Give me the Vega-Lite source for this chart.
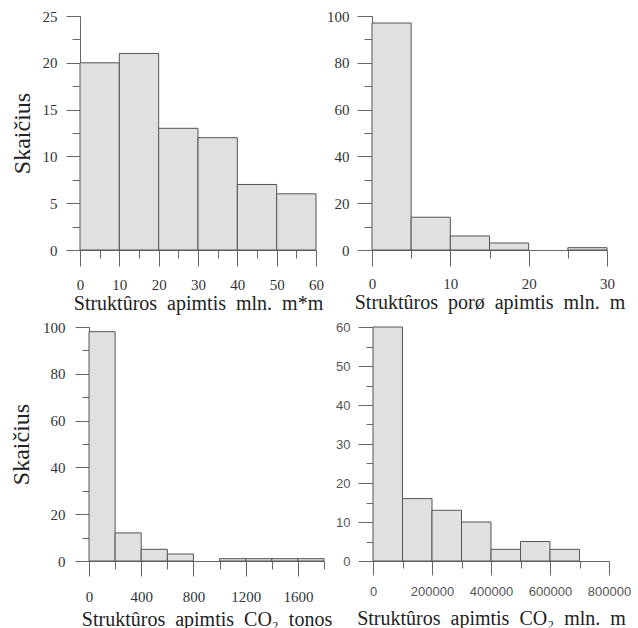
{
  "$schema": "https://vega.github.io/schema/vega-lite/v6.json",
  "autosize": {"type": "pad"},
  "padding": {"left": 9, "top": 9, "right": 0, "bottom": 0},
  "background": "white",
  "datasets": {
    "d1": [
      {"start": 0, "end": 10, "count": 20},
      {"start": 10, "end": 20, "count": 21},
      {"start": 20, "end": 30, "count": 13},
      {"start": 30, "end": 40, "count": 12},
      {"start": 40, "end": 50, "count": 7},
      {"start": 50, "end": 60, "count": 6}
    ],
    "d2": [
      {"start": 0, "end": 5, "count": 97},
      {"start": 5, "end": 10, "count": 14},
      {"start": 10, "end": 15, "count": 6},
      {"start": 15, "end": 20, "count": 3},
      {"start": 25, "end": 30, "count": 1}
    ],
    "d3": [
      {"start": 0, "end": 200, "count": 98},
      {"start": 200, "end": 400, "count": 12},
      {"start": 400, "end": 600, "count": 5},
      {"start": 600, "end": 800, "count": 3},
      {"start": 1000, "end": 1200, "count": 1},
      {"start": 1200, "end": 1400, "count": 1},
      {"start": 1400, "end": 1600, "count": 1},
      {"start": 1600, "end": 1800, "count": 1}
    ],
    "d4": [
      {"start": 0, "end": 100000, "count": 60},
      {"start": 100000, "end": 200000, "count": 16},
      {"start": 200000, "end": 300000, "count": 13},
      {"start": 300000, "end": 400000, "count": 10},
      {"start": 400000, "end": 500000, "count": 3},
      {"start": 500000, "end": 600000, "count": 5},
      {"start": 600000, "end": 700000, "count": 3}
    ]
  },
  "config": {
    "view": {"stroke": null},
    "axis": {
      "grid": false,
      "domainColor": "#666",
      "tickColor": "#666",
      "labelFont": "Liberation Serif",
      "labelFontSize": 15,
      "labelColor": "#333",
      "labelOverlap": false,
      "labelFlush": false,
      "titleFont": "Liberation Serif",
      "titleFontWeight": "normal",
      "titleColor": "#222"
    },
    "axisX": {"titleFontSize": 20, "titlePadding": 1},
    "axisY": {"titleFontSize": 24}
  },
  "vconcat": [
    {
      "hconcat": [
        {
          "width": 236, "height": 234,
          "data": {"name": "d1"},
          "layer": [
            {
              "mark": {"type": "bar", "fill": "#e0e0e0", "stroke": "#555", "strokeWidth": 1},
              "encoding": {
                "x": {"field": "start", "type": "quantitative", "scale": {"domain": [0, 60], "nice": false},
                  "axis": {"orient": "bottom", "values": [0, 10, 20, 30, 40, 50, 60], "tickSize": 16, "labelPadding": 11,
                    "title": "Struktûros\u00a0 apimtis\u00a0 mln.\u00a0 m*m"}},
                "x2": {"field": "end"},
                "y": {"field": "count", "type": "quantitative", "scale": {"domain": [0, 25], "nice": false},
                  "axis": {"orient": "left", "values": [0, 5, 10, 15, 20, 25], "tickSize": 14, "labelPadding": 9,
                    "title": "Skaičius", "titlePadding": 8}},
                "y2": {"datum": 0}
              }
            },
            {
              "mark": {"type": "bar", "opacity": 0},
              "encoding": {
                "x": {"field": "start", "type": "quantitative",
                  "axis": {"orient": "bottom", "values": [5, 15, 25, 35, 45, 55], "tickSize": 8, "labels": false, "domain": false, "title": null}},
                "x2": {"field": "end"},
                "y": {"field": "count", "type": "quantitative",
                  "axis": {"orient": "left", "values": [2.5, 7.5, 12.5, 17.5, 22.5], "tickSize": 8, "labels": false, "domain": false, "title": null}},
                "y2": {"datum": 0}
              }
            }
          ],
          "resolve": {"axis": {"x": "independent", "y": "independent"}}
        },
        {
          "width": 235, "height": 234,
          "data": {"name": "d2"},
          "layer": [
            {
              "mark": {"type": "bar", "fill": "#e0e0e0", "stroke": "#555", "strokeWidth": 1},
              "encoding": {
                "x": {"field": "start", "type": "quantitative", "scale": {"domain": [0, 30], "nice": false},
                  "axis": {"orient": "bottom", "values": [0, 10, 20, 30], "tickSize": 16, "labelPadding": 10,
                    "title": "Struktûros\u00a0 porø\u00a0 apimtis\u00a0 mln.\u00a0 m"}},
                "x2": {"field": "end"},
                "y": {"field": "count", "type": "quantitative", "scale": {"domain": [0, 100], "nice": false},
                  "axis": {"orient": "left", "values": [0, 20, 40, 60, 80, 100], "tickSize": 15, "labelPadding": 8, "title": null}},
                "y2": {"datum": 0}
              }
            },
            {
              "mark": {"type": "bar", "opacity": 0},
              "encoding": {
                "x": {"field": "start", "type": "quantitative",
                  "axis": {"orient": "bottom", "values": [5, 15, 25], "tickSize": 8, "labels": false, "domain": false, "title": null}},
                "x2": {"field": "end"},
                "y": {"field": "count", "type": "quantitative",
                  "axis": {"orient": "left", "values": [10, 30, 50, 70, 90], "tickSize": 8, "labels": false, "domain": false, "title": null}},
                "y2": {"datum": 0}
              }
            }
          ],
          "resolve": {"axis": {"x": "independent", "y": "independent"}}
        }
      ],
      "spacing": 56,
      "bounds": "flush"
    },
    {
      "hconcat": [
        {
          "width": 9, "height": 234,
          "data": {"values": []},
          "mark": {"type": "point", "opacity": 0},
          "encoding": {}
        },
        {
          "hconcat": [
            {
              "width": 235, "height": 234,
              "data": {"name": "d3"},
              "layer": [
                {
                  "mark": {"type": "bar", "fill": "#e0e0e0", "stroke": "#555", "strokeWidth": 1},
                  "encoding": {
                    "x": {"field": "start", "type": "quantitative", "scale": {"domain": [0, 1800], "nice": false},
                      "axis": {"orient": "bottom", "values": [0, 400, 800, 1200, 1600], "format": "d", "tickSize": 15, "labelPadding": 13,
                        "titlePadding": 5, "title": "Struktûros\u00a0 apimtis\u00a0 CO₂\u00a0 tonos"}},
                    "x2": {"field": "end"},
                    "y": {"field": "count", "type": "quantitative", "scale": {"domain": [0, 100], "nice": false},
                      "axis": {"orient": "left", "values": [0, 20, 40, 60, 80, 100], "tickSize": 14, "labelPadding": 10,
                        "title": "Skaičius", "titlePadding": 9}},
                    "y2": {"datum": 0}
                  }
                },
                {
                  "mark": {"type": "bar", "opacity": 0},
                  "encoding": {
                    "x": {"field": "start", "type": "quantitative",
                      "axis": {"orient": "bottom", "values": [200, 600, 1000, 1400, 1800], "tickSize": 8, "labels": false, "domain": false, "title": null}},
                    "x2": {"field": "end"},
                    "y": {"field": "count", "type": "quantitative",
                      "axis": {"orient": "left", "values": [10, 30, 50, 70, 90], "tickSize": 7, "labels": false, "domain": false, "title": null}},
                    "y2": {"datum": 0}
                  }
                }
              ],
              "resolve": {"axis": {"x": "independent", "y": "independent"}}
            },
            {
              "width": 236, "height": 234,
              "data": {"name": "d4"},
              "layer": [
                {
                  "mark": {"type": "bar", "fill": "#e0e0e0", "stroke": "#555", "strokeWidth": 1},
                  "encoding": {
                    "x": {"field": "start", "type": "quantitative", "scale": {"domain": [0, 800000], "nice": false},
                      "axis": {"orient": "bottom", "values": [0, 200000, 400000, 600000, 800000], "format": "d",
                        "labelFont": "Liberation Sans", "labelFontSize": 13, "labelColor": "#555",
                        "tickSize": 14, "labelPadding": 10, "titlePadding": 10,
                        "title": "Struktûros\u00a0 apimtis\u00a0 CO₂\u00a0 mln.\u00a0 m"}},
                    "x2": {"field": "end"},
                    "y": {"field": "count", "type": "quantitative", "scale": {"domain": [0, 60], "nice": false},
                      "axis": {"orient": "left", "values": [0, 10, 20, 30, 40, 50, 60],
                        "labelFont": "Liberation Sans", "labelFontSize": 13, "labelColor": "#555",
                        "tickSize": 15, "labelPadding": 8, "title": null}},
                    "y2": {"datum": 0}
                  }
                },
                {
                  "mark": {"type": "bar", "opacity": 0},
                  "encoding": {
                    "x": {"field": "start", "type": "quantitative",
                      "axis": {"orient": "bottom", "values": [100000, 300000, 500000, 700000], "tickSize": 7, "labels": false, "domain": false, "title": null}},
                    "x2": {"field": "end"},
                    "y": {"field": "count", "type": "quantitative",
                      "axis": {"orient": "left", "values": [5, 15, 25, 35, 45, 55], "tickSize": 7, "labels": false, "domain": false, "title": null}},
                    "y2": {"datum": 0}
                  }
                }
              ],
              "resolve": {"axis": {"x": "independent", "y": "independent"}}
            }
          ],
          "spacing": 49,
          "bounds": "flush"
        }
      ],
      "spacing": 0,
      "bounds": "flush"
    }
  ],
  "spacing": 7,
  "align": "none",
  "bounds": "full"
}
